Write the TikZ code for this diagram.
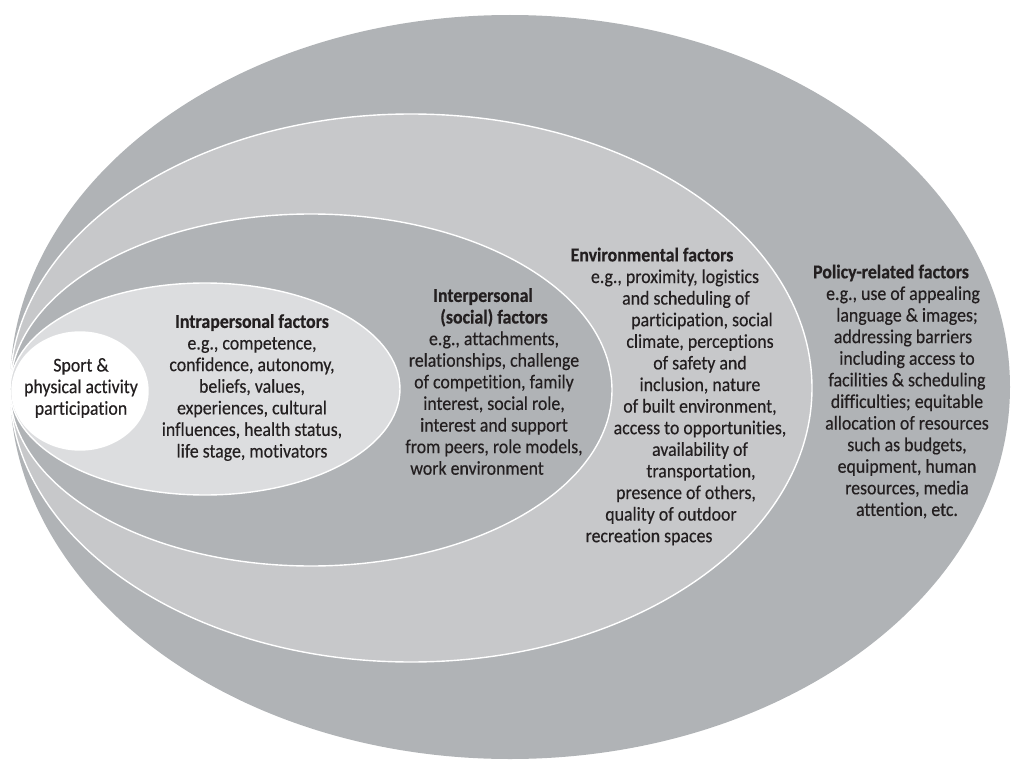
\documentclass[tikz,border=0pt]{standalone}
\usepackage{fontspec}
\setmainfont{Carlito}[FakeStretch=0.91, Ligatures={NoCommon}, UprightFeatures={FakeBold=0.35}, BoldFeatures={FakeBold=0.5}]
\definecolor{gdark}{HTML}{B0B3B6}
\definecolor{gmid}{HTML}{C7C8CA}
\definecolor{glight}{HTML}{DCDDDF}
\definecolor{ink}{HTML}{231F20}
\newcommand\sh[2]{\hbox{\kern#1\relax#2\kern-#1\relax}}
\tikzset{
  ring/.style={fill=#1, draw=white, line width=1.4pt},
  txt/.style={align=center, text=ink, font=\fontsize{19.6}{21.6}\selectfont, inner sep=0pt},
}
\begin{document}
\begin{tikzpicture}[x=1pt,y=-1pt]
\useasboundingbox (0,0) rectangle (1013,760);
\fill[gdark] (510,387) ellipse [x radius=500pt, y radius=372pt];
\path[ring=gmid] (411,388) ellipse [x radius=401pt, y radius=274pt];
\path[ring=gdark] (311,390) ellipse [x radius=301pt, y radius=176pt];
\path[ring=glight] (205,389) ellipse [x radius=195pt, y radius=106pt];
\path[ring=white] (80,391) ellipse [x radius=68pt, y radius=59pt];

\node[txt] (sport) at (81,388) {Sport \&\\physical activity\\participation};

\node[txt] (intra) at (252,387.5) {\textbf{Intrapersonal factors}\\e.g., competence,\\confidence, autonomy,\\beliefs, values,\\experiences, cultural\\influences, health status,\\life stage, motivators};

\node[txt] (inter) at (494,381.5) {\sh{-11pt}{\textbf{Interpersonal}}\\\textbf{(social) factors}\\e.g., attachments,\\relationships, challenge\\of competition, family\\interest, social role,\\interest and support\\from peers, role models,\\\sh{-17pt}{work environment}};

\node[txt] (env) at (700,396.5) {\sh{-48pt}{\textbf{Environmental factors}}\\\sh{-25pt}{e.g., proximity, logistics}\\\sh{-14pt}{and scheduling of}\\\sh{2pt}{participation, social}\\climate, perceptions\\of safety and\\inclusion, nature\\of built environment,\\access to opportunities,\\availability of\\\sh{1pt}{transportation,}\\\sh{-14pt}{presence of others,}\\\sh{-29pt}{quality of outdoor}\\\sh{-51pt}{recreation spaces}};

\node[txt] (policy) at (907,391.5) {\sh{-16pt}{\textbf{Policy-related factors}}\\\sh{-4pt}{e.g., use of appealing}\\language \& images;\\\sh{-4pt}{addressing barriers}\\including access to\\facilities \& scheduling\\difficulties; equitable\\allocation of resources\\such as budgets,\\equipment, human\\resources, media\\attention, etc.};
\end{tikzpicture}
\end{document}
